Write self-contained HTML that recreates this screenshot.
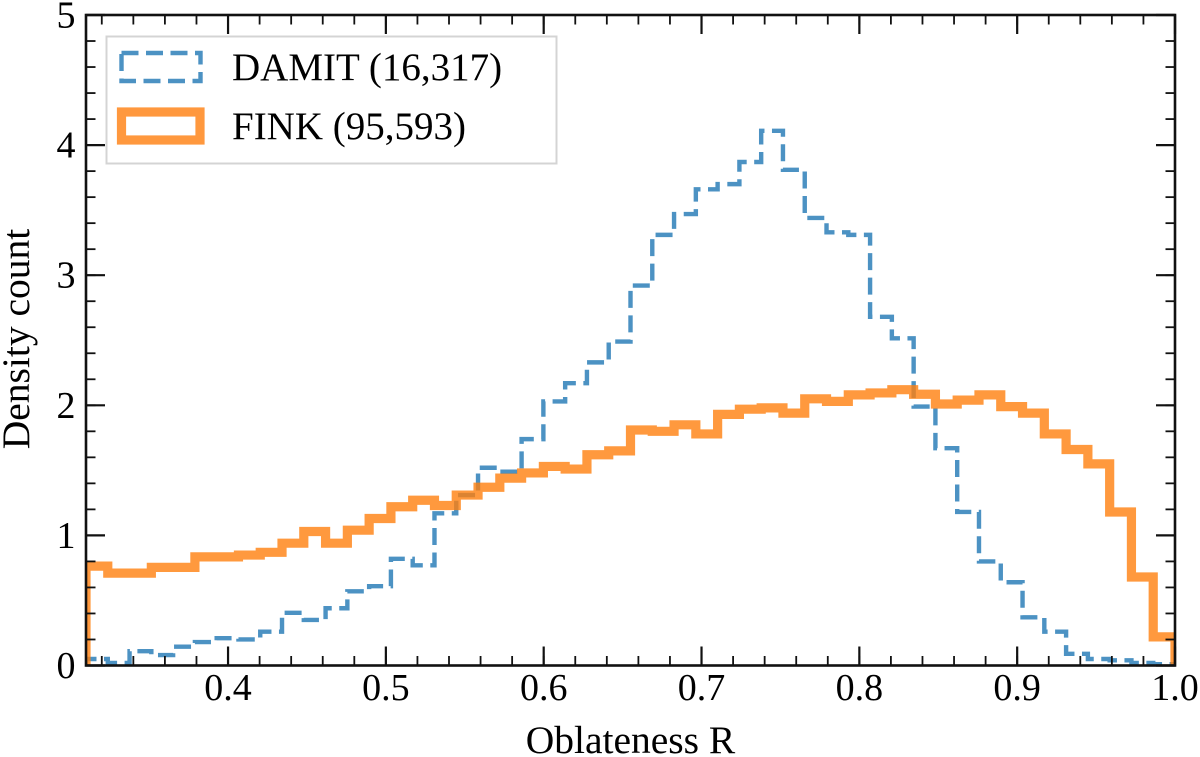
<!DOCTYPE html>
<html lang="en">
<head>
<meta charset="utf-8">
<title>Oblateness R density histogram</title>
<style>
html,body{margin:0;padding:0;background:#fff;}
svg{display:block;}
text{font-family:"Liberation Serif",serif;fill:#000;}
</style>
</head>
<body>
<svg id="chart" xmlns="http://www.w3.org/2000/svg" width="1200" height="757" viewBox="0 0 1200 757">
  <defs>
    <clipPath id="plot-clip"><rect x="86" y="15" width="1089" height="650.5"/></clipPath>
  </defs>
  <rect x="0" y="0" width="1200" height="757" fill="#fff"/>
  <g id="series" clip-path="url(#plot-clip)"></g>
  <g id="ticks"></g>
  <rect x="86" y="15" width="1089" height="650.5" fill="none" stroke="#111" stroke-width="2.6"/>
  <g id="tick-labels"></g>
  <text x="630.5" y="753" font-size="39.5" text-anchor="middle">Oblateness R</text>
  <text transform="translate(29 339) rotate(-90)" font-size="39.5" text-anchor="middle">Density count</text>
  <g>
    <rect x="106.5" y="36.5" width="450" height="127" fill="#fff" fill-opacity="0.8" stroke="#d4d4d4" stroke-width="2"/>
    <rect x="121.5" y="53" width="79" height="28" fill="none" stroke="#4c92c3" stroke-width="4.4" stroke-dasharray="17 7.5"/>
    <rect x="121.5" y="112" width="78.5" height="28" fill="none" stroke="#ff983e" stroke-width="9.2"/>
    <text x="232" y="80" font-size="39">DAMIT (16,317)</text>
    <text x="232" y="139" font-size="39">FINK (95,593)</text>
  </g>
</svg>
<script>
const binCount = 50;
const xDomain = [0.31, 1.0];
const yDomain = [0, 5];
const damitValues = [0.05,0.02,0.11,0.08,0.145,0.18,0.21,0.20,0.26,0.405,
  0.35,0.44,0.57,0.61,0.82,0.77,1.17,1.31,1.52,1.49,
  1.74,2.03,2.17,2.33,2.49,2.92,3.31,3.47,3.66,3.70,
  3.87,4.11,3.81,3.44,3.33,3.31,2.68,2.515,1.99,1.67,
  1.18,0.80,0.64,0.37,0.26,0.09,0.05,0.04,0.02,0.01];
const finkValues = [0.764,0.71,0.71,0.754,0.754,0.835,0.835,0.849,0.87,0.94,
  1.03,0.94,1.04,1.13,1.22,1.27,1.23,1.31,1.37,1.44,
  1.48,1.53,1.51,1.62,1.65,1.81,1.80,1.85,1.78,1.93,
  1.97,1.98,1.94,2.05,2.03,2.08,2.095,2.12,2.085,2.01,
  2.04,2.08,1.99,1.94,1.78,1.66,1.55,1.18,0.68,0.22];
const xMajorTicks = ["0.4","0.5","0.6","0.7","0.8","0.9","1.0"];
const yMajorTicks = ["0","1","2","3","4","5"];
const xMinorStep = 0.02;
const yMinorStep = 0.2;

const NS = 'http://www.w3.org/2000/svg';
const plotLeft = 86, plotRight = 1175, plotTop = 15, plotBottom = 665.5;
function xScale(v){ return plotLeft + (v - xDomain[0]) / (xDomain[1] - xDomain[0]) * (plotRight - plotLeft); }
function yScale(v){ return plotBottom - (v - yDomain[0]) / (yDomain[1] - yDomain[0]) * (plotBottom - plotTop); }

function stepPath(values){
  const w = (xDomain[1] - xDomain[0]) / binCount;
  let d = 'M' + xScale(xDomain[0]).toFixed(2) + ' ' + yScale(0).toFixed(2);
  values.forEach(function(v, i){
    d += 'V' + yScale(v).toFixed(2) + 'H' + xScale(xDomain[0] + (i + 1) * w).toFixed(2);
  });
  d += 'V' + yScale(0).toFixed(2);
  return d;
}

const seriesGroup = document.getElementById('series');

const damitLine = document.createElementNS(NS, 'path');


damitLine.setAttribute('d', stepPath(damitValues));
damitLine.setAttribute('fill', 'none');
damitLine.setAttribute('stroke', '#1f77b4');
damitLine.setAttribute('stroke-opacity', '0.8');
damitLine.setAttribute('stroke-width', '4.4');
damitLine.setAttribute('stroke-dasharray', '17 7.5');
seriesGroup.appendChild(damitLine);

const finkLine = document.createElementNS(NS, 'path');


finkLine.setAttribute('d', stepPath(finkValues));
finkLine.setAttribute('fill', 'none');
finkLine.setAttribute('stroke', '#ff7f0e');
finkLine.setAttribute('stroke-opacity', '0.8');
finkLine.setAttribute('stroke-width', '9.2');
finkLine.setAttribute('stroke-linejoin', 'miter');
seriesGroup.appendChild(finkLine);

const tickGroup = document.getElementById('ticks');
function addTick(x1, y1, x2, y2, width){
  const t = document.createElementNS(NS, 'line');
  
  
  t.setAttribute('x1', x1);
  t.setAttribute('y1', y1);
  t.setAttribute('x2', x2);
  t.setAttribute('y2', y2);
  t.setAttribute('stroke', '#111');
  t.setAttribute('stroke-width', width);
  tickGroup.appendChild(t);
}
const majorLen = 19, minorLen = 9.5;
const xMinorCount = Math.round((xDomain[1] - 0.32) / xMinorStep);
for (let i = 0; i <= xMinorCount; i++){
  const value = 0.32 + i * xMinorStep;
  const px = xScale(value);
  addTick(px, plotBottom, px, plotBottom - minorLen, 1.8);
  addTick(px, plotTop, px, plotTop + minorLen, 1.8);
}
const yMinorCount = Math.round((yDomain[1] - yDomain[0]) / yMinorStep);
for (let i = 0; i <= yMinorCount; i++){
  const py = yScale(yDomain[0] + i * yMinorStep);
  addTick(plotLeft, py, plotLeft + minorLen, py, 1.8);
  addTick(plotRight, py, plotRight - minorLen, py, 1.8);
}

const labelGroup = document.getElementById('tick-labels');
xMajorTicks.forEach(function(label){
  const px = xScale(parseFloat(label));
  addTick(px, plotBottom, px, plotBottom - majorLen, 2.2);
  addTick(px, plotTop, px, plotTop + majorLen, 2.2);
  const t = document.createElementNS(NS, 'text');
  
  
  t.setAttribute('x', px);
  t.setAttribute('y', 700);
  t.setAttribute('font-size', '38');
  t.setAttribute('text-anchor', 'middle');
  t.textContent = label;
  labelGroup.appendChild(t);
});
yMajorTicks.forEach(function(label){
  const py = yScale(parseFloat(label));
  addTick(plotLeft, py, plotLeft + majorLen, py, 2.2);
  addTick(plotRight, py, plotRight - majorLen, py, 2.2);
  const t = document.createElementNS(NS, 'text');
  
  
  t.setAttribute('x', 75.5);
  t.setAttribute('y', py + 12.5);
  t.setAttribute('font-size', '38');
  t.setAttribute('text-anchor', 'end');
  t.textContent = label;
  labelGroup.appendChild(t);
});
</script>
</body>
</html>
